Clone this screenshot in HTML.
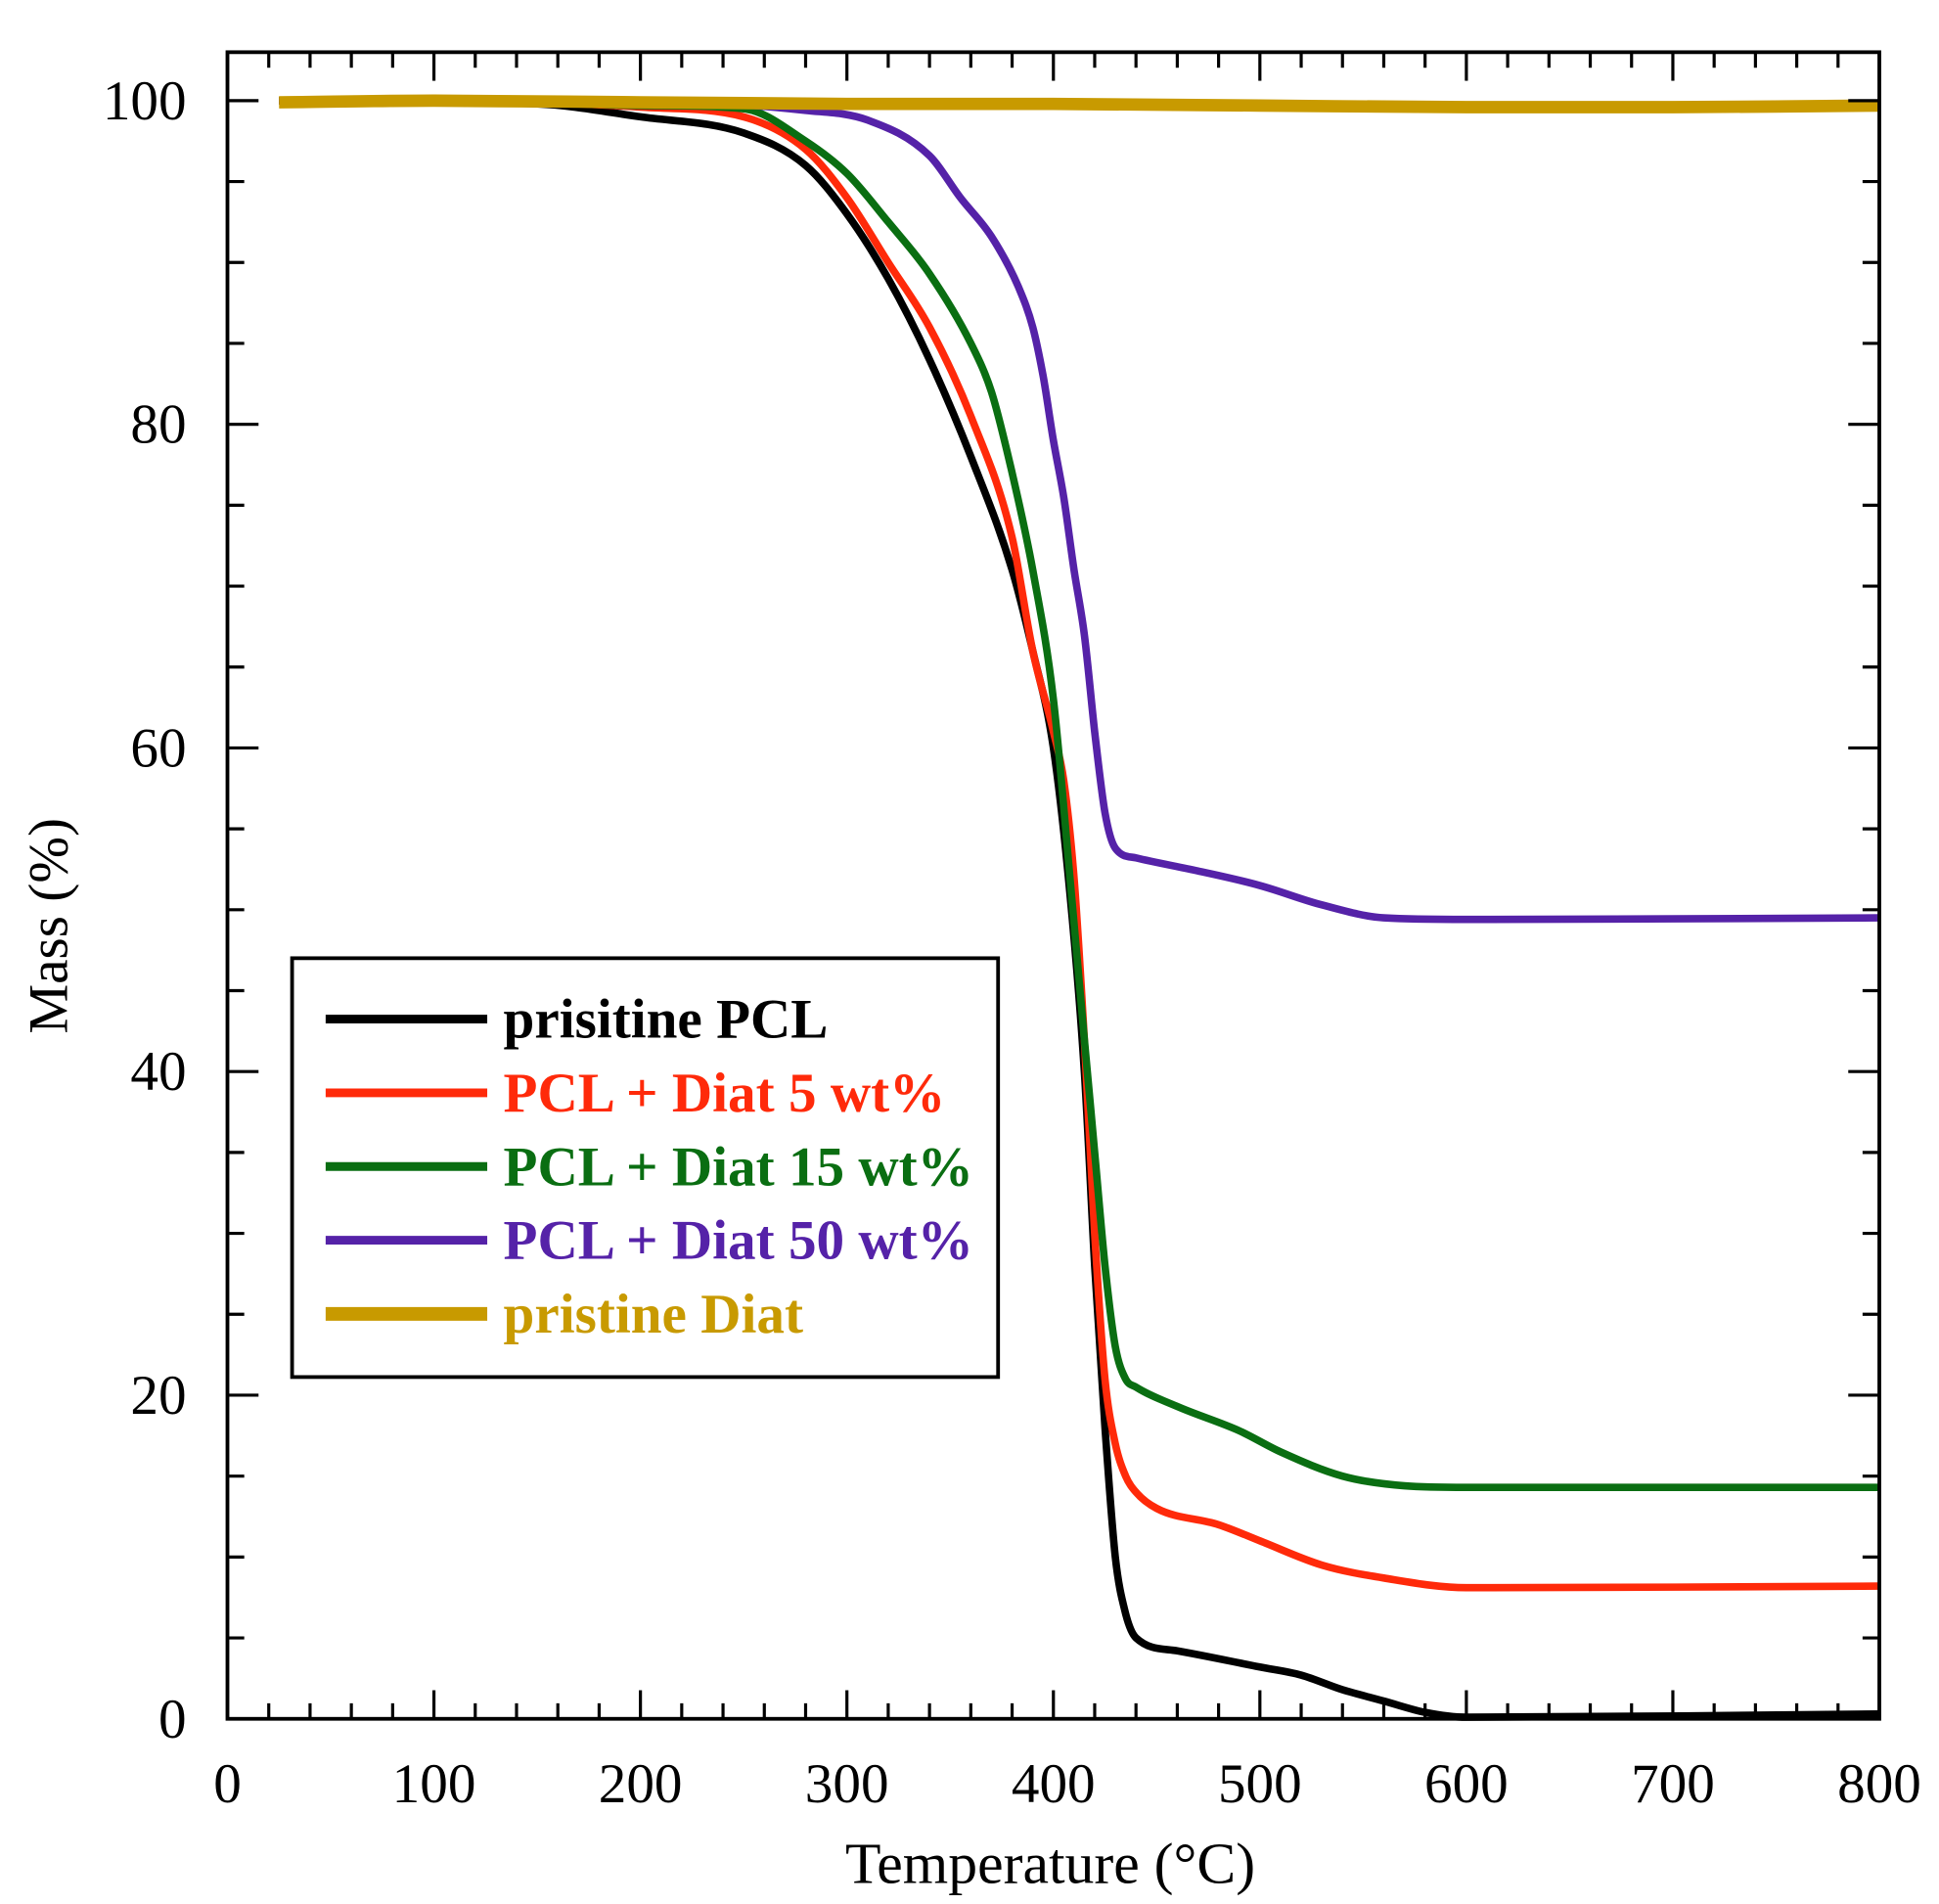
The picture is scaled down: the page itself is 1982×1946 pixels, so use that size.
<!DOCTYPE html>
<html><head><meta charset="utf-8"><style>
html,body{margin:0;padding:0;background:#fff}
svg{display:block}
text{font-family:"Liberation Serif",serif}
</style></head><body>
<svg id="chart" width="1982" height="1946" viewBox="0 0 1560 1532" preserveAspectRatio="none" xmlns="http://www.w3.org/2000/svg">
<rect x="0" y="0" width="1560" height="1532" fill="#fff"/>
<g id="marks"></g>
<g id="axes"></g>
<text x="845" y="1515" font-size="47" text-anchor="middle">Temperature (°C)</text>
<text transform="translate(54,745) rotate(-90)" font-size="45" text-anchor="middle">Mass (%)</text>
<g>
<rect x="235" y="771" width="568" height="337" fill="#fff" stroke="#000" stroke-width="3"/>
<g id="legend-entries"></g>
</g>
</svg>
<script>
const xTicks=[0,100,200,300,400,500,600,700,800];
const yTicks=[0,20,40,60,80,100];
const seriesNames=["prisitine PCL","PCL + Diat 5 wt%","PCL + Diat 15 wt%","PCL + Diat 50 wt%","pristine Diat"];
const seriesColors=["#000000","#ff2a0a","#0a6e12","#5522a8","#c89a00"];
const blackT=[25,150,200,250,280,300,320,340,360,380,390,400,408,415,420,425,430,435,440,460,500,520,540,560,580,600,800];
const blackM=[100,99.8,99,98,96,93,89,84,78,71,66,60,51,40,28,18,10,6.5,5,4.2,3.2,2.7,1.8,1.1,0.4,0.1,0.3];
const redT=[25,150,200,250,280,300,320,340,360,380,390,400,405,410,415,420,425,430,435,440,450,480,500,530,560,600,800];
const redM=[100,99.9,99.6,99,97,94,90,86,80.5,73,66,61,58,52,42,30,21,17,15,14,13,12,11,9.5,8.7,8.1,8.2];
const greenT=[25,150,200,250,280,300,320,340,360,370,380,390,400,408,415,420,425,430,435,440,460,490,510,540,570,600,800];
const greenM=[100,99.9,99.7,99.5,97.5,95.5,92.5,89.3,85,82,77,71,63,52,42,35,28,23,21,20.5,19.3,17.8,16.5,15,14.4,14.3,14.3];
const purpleT=[25,200,280,310,340,355,370,383,390,395,400,405,410,415,420,425,430,440,470,500,530,560,600,800];
const purpleM=[100,100,99.4,98.8,96.6,94,91.6,88.5,86,83,79,75.5,71,67,61,56,53.8,53.2,52.4,51.5,50.3,49.5,49.4,49.5];
const goldT=[25,100,200,300,400,500,600,700,800];
const goldM=[99.9,100,99.9,99.8,99.8,99.7,99.6,99.6,99.7];
const seriesT=[blackT,redT,greenT,purpleT,goldT];
const seriesM=[blackM,redM,greenM,purpleM,goldM];
const seriesW=[6,6,6,6,10];

const X0=183,X1=1512,Y0=1383,Y1=81,TOP=42;
const xs=v=>X0+(v-0)/(800-0)*(X1-X0);
const ys=v=>Y0-(v-0)/(100-0)*(Y0-Y1);
const NS="http://www.w3.org/2000/svg";
function mk(tag,attrs,parent){const e=document.createElementNS(NS,tag);for(const k in attrs)e.setAttribute(k,attrs[k]);parent.appendChild(e);return e;}
function monotonePath(px,py){
  const n=px.length;const d=[],m=new Array(n);
  for(let i=0;i<n-1;i++)d.push((py[i+1]-py[i])/(px[i+1]-px[i]));
  m[0]=d[0];m[n-1]=d[n-2];
  for(let i=1;i<n-1;i++){m[i]=(d[i-1]*d[i]<=0)?0:(d[i-1]+d[i])/2;}
  for(let i=0;i<n-1;i++){
    if(d[i]===0){m[i]=0;m[i+1]=0;continue;}
    const a=m[i]/d[i],b=m[i+1]/d[i],s=a*a+b*b;
    if(s>9){const t=3/Math.sqrt(s);m[i]=t*a*d[i];m[i+1]=t*b*d[i];}
  }
  let p='M'+px[0].toFixed(1)+' '+py[0].toFixed(1);
  for(let i=0;i<n-1;i++){
    const h=(px[i+1]-px[i])/3;
    p+='C'+(px[i]+h).toFixed(1)+' '+(py[i]+m[i]*h).toFixed(1)+' '+(px[i+1]-h).toFixed(1)+' '+(py[i+1]-m[i+1]*h).toFixed(1)+' '+px[i+1].toFixed(1)+' '+py[i+1].toFixed(1);
  }
  return p;
}
const marks=document.getElementById('marks');
const axes=document.getElementById('axes');
const keys=['pristine-pcl','pcl-diat-5','pcl-diat-15','pcl-diat-50','pristine-diat'];
for(let s=0;s<5;s++){
  const px=seriesT[s].map(xs),py=seriesM[s].map(ys);
  const p=mk('path',{d:monotonePath(px,py),fill:'none',stroke:seriesColors[s],'stroke-width':seriesW[s],'stroke-linejoin':'round'},marks);
  
  
}
const fr=mk('rect',{x:X0,y:TOP,width:X1-X0,height:Y0-TOP,fill:'none',stroke:'#000','stroke-width':3},axes);


for(let v=0;v<=800;v+=20){
  const major=v%100===0;const L=major?23:12.5;const x=xs(v);
  const t1=mk('line',{x1:x,y1:Y0,x2:x,y2:Y0-L,stroke:'#000','stroke-width':2.5},axes);
  
  
  const t2=mk('line',{x1:x,y1:TOP,x2:x,y2:TOP+L,stroke:'#000','stroke-width':2.5},axes);
  
  
}
xTicks.forEach(v=>{
  const t=mk('text',{x:xs(v),y:1450,'font-size':45,'text-anchor':'middle'},axes);t.textContent=v;
  
  
});
for(let v=0;v<=100;v+=5){
  const major=v%20===0;const L=major?25:13.5;const y=ys(v);
  const t1=mk('line',{x1:X0,y1:y,x2:X0+L,y2:y,stroke:'#000','stroke-width':2.5},axes);
  
  
  const t2=mk('line',{x1:X1,y1:y,x2:X1-L,y2:y,stroke:'#000','stroke-width':2.5},axes);
  
  
}
yTicks.forEach(v=>{
  const t=mk('text',{x:150,y:ys(v)+15,'font-size':45,'text-anchor':'end'},axes);t.textContent=v;
  
  
});
const leg=document.getElementById('legend-entries');
for(let s=0;s<5;s++){
  const y=820+s*59.3;
  const g=mk('g',{},leg);
  
  
  mk('line',{x1:262,y1:y,x2:392,y2:y,stroke:seriesColors[s],'stroke-width':seriesW[s]+1},g);
  const t=mk('text',{x:405,y:y+15,'font-size':45,'font-weight':'bold',fill:seriesColors[s]},g);
  t.textContent=seriesNames[s];
}
</script>
</body></html>
